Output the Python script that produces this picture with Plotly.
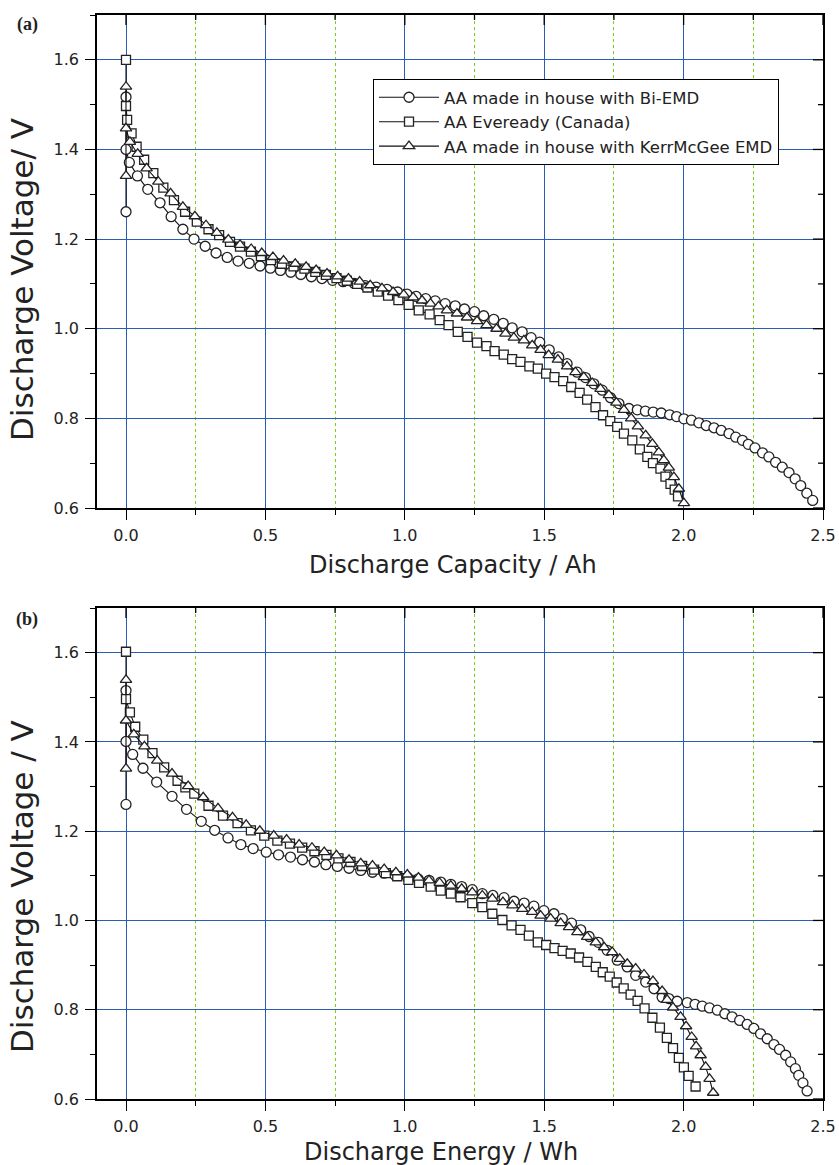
import plotly.graph_objects as go

# ---------------- data: panel (a) capacity ----------------
cap_bi_x = [0, 0, 0, 0.012, 0.041, 0.078, 0.122, 0.162, 0.204, 0.244, 0.284, 0.323, 0.363, 0.402, 0.442,
            0.481, 0.518, 0.554, 0.591, 0.627, 0.665, 0.703, 0.741, 0.779, 0.819, 0.858, 0.897, 0.936, 0.974,
            1.008, 1.041, 1.075, 1.109, 1.145, 1.181, 1.214, 1.250, 1.283, 1.319, 1.353, 1.385, 1.421, 1.453,
            1.484, 1.518, 1.552, 1.582, 1.618, 1.648, 1.678, 1.708, 1.738, 1.768, 1.804, 1.834, 1.863, 1.891,
            1.920, 1.950, 1.975, 2.001, 2.028, 2.055, 2.081, 2.109, 2.135, 2.163, 2.187, 2.211, 2.232, 2.256,
            2.283, 2.306, 2.330, 2.354, 2.378, 2.400, 2.420, 2.442, 2.463]
cap_bi_v = [1.517, 1.261, 1.400, 1.371, 1.341, 1.311, 1.281, 1.250, 1.222, 1.200, 1.184, 1.169, 1.159, 1.151,
            1.146, 1.140, 1.135, 1.130, 1.126, 1.121, 1.116, 1.112, 1.108, 1.105, 1.101, 1.096, 1.093, 1.088,
            1.082, 1.077, 1.072, 1.067, 1.062, 1.056, 1.051, 1.044, 1.038, 1.029, 1.021, 1.012, 1.002, 0.993,
            0.980, 0.970, 0.953, 0.937, 0.922, 0.903, 0.891, 0.877, 0.863, 0.846, 0.833, 0.822, 0.819, 0.816,
            0.814, 0.812, 0.808, 0.804, 0.799, 0.796, 0.790, 0.784, 0.779, 0.773, 0.766, 0.758, 0.751, 0.742,
            0.734, 0.723, 0.714, 0.702, 0.691, 0.679, 0.665, 0.650, 0.633, 0.617]

cap_ev_x = [0, 0, 0.004, 0.020, 0.038, 0.065, 0.098, 0.134, 0.172, 0.212, 0.254, 0.296, 0.334, 0.373, 0.409,
            0.448, 0.484, 0.520, 0.559, 0.601, 0.640, 0.679, 0.717, 0.755, 0.792, 0.829, 0.866, 0.903, 0.940,
            0.977, 1.014, 1.050, 1.089, 1.125, 1.157, 1.190, 1.225, 1.259, 1.293, 1.322, 1.355, 1.385, 1.415,
            1.447, 1.477, 1.507, 1.537, 1.568, 1.597, 1.627, 1.654, 1.684, 1.711, 1.737, 1.762, 1.786, 1.816,
            1.843, 1.870, 1.890, 1.917, 1.935, 1.953, 1.968, 1.980]
cap_ev_v = [1.600, 1.497, 1.466, 1.436, 1.406, 1.377, 1.347, 1.315, 1.287, 1.261, 1.239, 1.222, 1.209, 1.194,
            1.183, 1.172, 1.162, 1.153, 1.145, 1.139, 1.134, 1.127, 1.120, 1.113, 1.107, 1.100, 1.092, 1.083,
            1.074, 1.064, 1.053, 1.041, 1.032, 1.019, 1.008, 0.993, 0.982, 0.969, 0.961, 0.950, 0.942, 0.932,
            0.926, 0.916, 0.911, 0.900, 0.892, 0.883, 0.870, 0.857, 0.842, 0.825, 0.807, 0.794, 0.781, 0.766,
            0.751, 0.731, 0.714, 0.700, 0.688, 0.670, 0.654, 0.641, 0.626]

cap_km_x = [0, 0, 0, 0.014, 0.042, 0.074, 0.116, 0.160, 0.204, 0.247, 0.287, 0.326, 0.367, 0.409, 0.449,
            0.487, 0.527, 0.565, 0.607, 0.646, 0.682, 0.721, 0.759, 0.798, 0.838, 0.876, 0.918, 0.958, 0.996,
            1.030, 1.062, 1.092, 1.121, 1.151, 1.187, 1.223, 1.259, 1.293, 1.329, 1.361, 1.391, 1.427, 1.457,
            1.487, 1.516, 1.549, 1.582, 1.612, 1.642, 1.672, 1.702, 1.732, 1.759, 1.786, 1.812, 1.836, 1.864,
            1.888, 1.911, 1.929, 1.947, 1.965, 1.983, 2.001]
cap_km_v = [1.540, 1.341, 1.447, 1.417, 1.390, 1.358, 1.328, 1.302, 1.272, 1.251, 1.231, 1.214, 1.199, 1.187,
            1.178, 1.169, 1.160, 1.152, 1.145, 1.138, 1.131, 1.123, 1.117, 1.112, 1.105, 1.097, 1.090, 1.082,
            1.076, 1.070, 1.063, 1.056, 1.050, 1.041, 1.034, 1.025, 1.017, 1.008, 1.000, 0.989, 0.980, 0.974,
            0.963, 0.953, 0.941, 0.931, 0.916, 0.903, 0.892, 0.879, 0.866, 0.852, 0.835, 0.819, 0.800, 0.782,
            0.762, 0.743, 0.724, 0.707, 0.690, 0.669, 0.643, 0.611]

# ---------------- data: panel (b) energy ----------------
en_bi_x = [0, 0, 0, 0.024, 0.061, 0.110, 0.165, 0.217, 0.270, 0.318, 0.366, 0.412, 0.456, 0.503, 0.547, 0.590,
           0.633, 0.676, 0.717, 0.758, 0.800, 0.842, 0.884, 0.926, 0.965, 1.009, 1.048, 1.087, 1.129, 1.165,
           1.204, 1.242, 1.278, 1.316, 1.356, 1.392, 1.428, 1.463, 1.499, 1.535, 1.565, 1.598, 1.631, 1.661,
           1.694, 1.726, 1.762, 1.798, 1.828, 1.864, 1.894, 1.923, 1.947, 1.977, 2.013, 2.041, 2.067, 2.093,
           2.121, 2.148, 2.174, 2.201, 2.228, 2.252, 2.276, 2.300, 2.324, 2.344, 2.366, 2.384, 2.401, 2.413,
           2.428, 2.443]
en_bi_v = [1.515, 1.260, 1.401, 1.372, 1.341, 1.310, 1.278, 1.249, 1.222, 1.202, 1.185, 1.170, 1.161, 1.153,
           1.147, 1.142, 1.136, 1.131, 1.125, 1.121, 1.117, 1.112, 1.108, 1.106, 1.101, 1.097, 1.093, 1.090,
           1.086, 1.081, 1.076, 1.069, 1.060, 1.056, 1.051, 1.043, 1.039, 1.032, 1.022, 1.015, 1.004, 0.994,
           0.979, 0.964, 0.951, 0.933, 0.911, 0.896, 0.877, 0.862, 0.847, 0.828, 0.825, 0.819, 0.816, 0.812,
           0.808, 0.804, 0.799, 0.791, 0.784, 0.776, 0.767, 0.758, 0.746, 0.735, 0.722, 0.711, 0.698, 0.683,
           0.668, 0.653, 0.636, 0.618]

en_ev_x = [0, 0, 0.014, 0.033, 0.062, 0.095, 0.137, 0.185, 0.213, 0.245, 0.296, 0.348, 0.400, 0.448, 0.496,
           0.543, 0.588, 0.632, 0.676, 0.719, 0.762, 0.805, 0.847, 0.890, 0.932, 0.973, 1.013, 1.051, 1.093,
           1.129, 1.165, 1.200, 1.242, 1.278, 1.314, 1.350, 1.383, 1.415, 1.445, 1.477, 1.507, 1.537, 1.566,
           1.595, 1.625, 1.655, 1.685, 1.710, 1.735, 1.760, 1.785, 1.810, 1.835, 1.860, 1.888, 1.915, 1.940,
           1.962, 1.983, 2.001, 2.018, 2.043]
en_ev_v = [1.602, 1.496, 1.466, 1.434, 1.405, 1.375, 1.343, 1.313, 1.298, 1.284, 1.257, 1.235, 1.218, 1.202,
           1.190, 1.179, 1.172, 1.163, 1.155, 1.147, 1.139, 1.131, 1.122, 1.114, 1.106, 1.099, 1.091, 1.084,
           1.076, 1.067, 1.060, 1.052, 1.039, 1.030, 1.015, 1.001, 0.989, 0.979, 0.966, 0.951, 0.945, 0.938,
           0.932, 0.926, 0.917, 0.907, 0.896, 0.884, 0.874, 0.861, 0.848, 0.834, 0.820, 0.803, 0.782, 0.760,
           0.737, 0.714, 0.692, 0.671, 0.652, 0.628]

en_km_x = [0, 0, 0, 0.028, 0.066, 0.112, 0.165, 0.223, 0.277, 0.330, 0.382, 0.431, 0.480, 0.530, 0.576, 0.621,
           0.667, 0.711, 0.755, 0.800, 0.842, 0.884, 0.926, 0.968, 1.009, 1.049, 1.087, 1.125, 1.165, 1.204,
           1.242, 1.278, 1.314, 1.352, 1.386, 1.421, 1.457, 1.487, 1.523, 1.559, 1.589, 1.619, 1.654, 1.685,
           1.715, 1.744, 1.771, 1.798, 1.828, 1.858, 1.890, 1.923, 1.941, 1.962, 1.989, 2.009, 2.029, 2.045,
           2.061, 2.079, 2.093, 2.106]
en_km_v = [1.539, 1.340, 1.448, 1.417, 1.390, 1.358, 1.329, 1.301, 1.276, 1.251, 1.231, 1.214, 1.201, 1.190,
           1.181, 1.170, 1.163, 1.153, 1.146, 1.136, 1.128, 1.123, 1.115, 1.108, 1.103, 1.096, 1.090, 1.084,
           1.078, 1.071, 1.063, 1.056, 1.049, 1.041, 1.034, 1.026, 1.019, 1.011, 1.004, 0.994, 0.985, 0.974,
           0.963, 0.951, 0.940, 0.929, 0.914, 0.903, 0.892, 0.879, 0.864, 0.842, 0.822, 0.805, 0.784, 0.763,
           0.739, 0.718, 0.698, 0.672, 0.645, 0.614]

series_names = ["AA made in house with Bi-EMD", "AA Eveready (Canada)", "AA made in house with KerrMcGee EMD"]
x_titles = ["Discharge Capacity / Ah", "Discharge Energy / Wh"]
y_titles = ["Discharge Voltage/ V", "Discharge Voltage / V"]
panel_labels = ["(a)", "(b)"]
x_major = [0.0, 0.5, 1.0, 1.5, 2.0, 2.5]
x_minor = [0.25, 0.75, 1.25, 1.75, 2.25]
y_major = [0.6, 0.8, 1.0, 1.2, 1.4, 1.6]
y_minor = [0.7, 0.9, 1.1, 1.3, 1.5]

# ---------------- layout geometry (pixels) ----------------
W, H = 839, 1165
L, R, T, B = 97, 823, 15, 1099
plot_w, plot_h = R - L, B - T
a_top, a_bot = 15, 508
b_top, b_bot = 608, 1099


def px_x(p):
    return (p - L) / plot_w


def px_y(p):
    return (B - p) / plot_h


FONT = "DejaVu Sans, Liberation Sans, Arial"
TXT = "#222222"
BLUE = "#2a5db5"
GREEN = "#78d010"
MK_LINE = "#222222"

symbols = ["circle", "square", "triangle-up"]
sizes = [10, 9, 10]

fig = go.Figure()

panels = [
    ("x", "y", [(cap_bi_x, cap_bi_v), (cap_ev_x, cap_ev_v), (cap_km_x, cap_km_v)], True),
    ("x2", "y2", [(en_bi_x, en_bi_v), (en_ev_x, en_ev_v), (en_km_x, en_km_v)], False),
]

for xa, ya, data, show in panels:
    for i, (xs, vs) in enumerate(data):
        fig.add_trace(go.Scatter(
            x=xs, y=vs, xaxis=xa, yaxis=ya, mode="lines+markers",
            name=series_names[i], showlegend=show, legendgroup=f"g{i}",
            line=dict(color="#111111", width=1.1),
            marker=dict(symbol=symbols[i], size=sizes[i], color="white",
                        line=dict(color=MK_LINE, width=1.3)),
            hoverinfo="skip",
        ))

XR = [-0.104, 2.5]
YR = [0.6, 1.7]
a_dom = [px_y(a_bot), px_y(a_top)]
b_dom = [px_y(b_bot), px_y(b_top)]

xbase = dict(range=XR, autorange=False, tick0=0, dtick=0.5, tickformat=".1f", showline=True,
             linecolor="black", linewidth=1.5, mirror=True, ticks="outside", ticklen=10, tickwidth=1.3,
             tickcolor="black", showgrid=True, gridcolor=BLUE, gridwidth=1, zeroline=False,
             tickfont=dict(family=FONT, size=16, color=TXT), ticklabelstandoff=2,
             minor=dict(dtick=0.25, tick0=0, ticks="outside", ticklen=5, tickwidth=1.3, tickcolor="black",
                        showgrid=True, gridcolor=GREEN, griddash="dot", gridwidth=1))
ybase = dict(range=YR, autorange=False, tick0=0.6, dtick=0.2, tickformat=".1f", showline=True,
             linecolor="black", linewidth=1.5, mirror=True, ticks="outside", ticklen=10, tickwidth=1.3,
             tickcolor="black", showgrid=True, gridcolor=BLUE, gridwidth=1, zeroline=False,
             tickfont=dict(family=FONT, size=16, color=TXT), ticklabelstandoff=3,
             minor=dict(dtick=0.1, tick0=0.6, ticks="outside", ticklen=5, tickwidth=1.3, tickcolor="black",
                        showgrid=False))

# inward ticks on the top and right frame edges (axis decoration)
shapes = []
tick_line = dict(color="black", width=1.3)
for xr, yr in [("x", "y"), ("x2", "y2")]:
    for vals, ln in [(x_major, 10), (x_minor, 5)]:
        for v in vals:
            shapes.append(dict(type="line", xref=xr, yref=yr, x0=v, x1=v, ysizemode="pixel",
                               yanchor=YR[1], y0=0, y1=-ln, line=tick_line, layer="above"))
    for vals, ln in [(y_major, 10), (y_minor, 5)]:
        for v in vals:
            shapes.append(dict(type="line", xref=xr, yref=yr, y0=v, y1=v, xsizemode="pixel",
                               xanchor=XR[1], x0=0, x1=-ln, line=tick_line, layer="above"))

fig.update_layout(
    width=W, height=H, margin=dict(l=L, r=W - R, t=T, b=H - B, autoexpand=False),
    paper_bgcolor="white", plot_bgcolor="white",
    xaxis=dict(domain=[0, 1], anchor="y", **xbase),
    yaxis=dict(domain=a_dom, anchor="x", **ybase),
    xaxis2=dict(domain=[0, 1], anchor="y2", **xbase),
    yaxis2=dict(domain=b_dom, anchor="x2", **ybase),
    legend=dict(x=px_x(373), y=px_y(79), xanchor="left", yanchor="top", bgcolor="white",
                bordercolor="black", borderwidth=1, tracegroupgap=0,
                font=dict(family=FONT, size=16.5, color=TXT), itemwidth=60),
    showlegend=True,
    shapes=shapes,
)

annots = []
title_font = dict(family=FONT, size=24, color=TXT)
ytitle_font = dict(family=FONT, size=31, color=TXT)
annots.append(dict(text=x_titles[0], x=px_x(453), y=px_y(565), xref="paper", yref="paper",
                   xanchor="center", yanchor="middle", showarrow=False, font=title_font))
annots.append(dict(text=x_titles[1], x=px_x(441), y=px_y(1152), xref="paper", yref="paper",
                   xanchor="center", yanchor="middle", showarrow=False, font=title_font))
annots.append(dict(text=y_titles[0], x=px_x(22), y=px_y(280), xref="paper", yref="paper",
                   xanchor="center", yanchor="middle", showarrow=False, textangle=-90, font=ytitle_font))
annots.append(dict(text=y_titles[1], x=px_x(22), y=px_y(887), xref="paper", yref="paper",
                   xanchor="center", yanchor="middle", showarrow=False, textangle=-90, font=ytitle_font))
serif = dict(family="Liberation Serif, Times New Roman, serif", size=18, color=TXT)
annots.append(dict(text="<b>" + panel_labels[0] + "</b>", x=px_x(27), y=px_y(24), xref="paper", yref="paper",
                   xanchor="center", yanchor="middle", showarrow=False, font=serif))
annots.append(dict(text="<b>" + panel_labels[1] + "</b>", x=px_x(27), y=px_y(619), xref="paper", yref="paper",
                   xanchor="center", yanchor="middle", showarrow=False, font=serif))
fig.update_layout(annotations=annots)

fig.write_html("out.html")
